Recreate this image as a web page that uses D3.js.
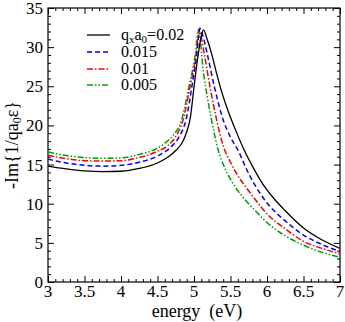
<!DOCTYPE html>
<html><head><meta charset="utf-8">
<script src="https://cdn.jsdelivr.net/npm/d3@7"></script>
<style>body{margin:0;background:#fff}svg{display:block}</style>
</head><body>
<script>
// ---- data ----
const xTicks = [3, 3.5, 4, 4.5, 5, 5.5, 6, 6.5, 7];
const yTicks = [0, 5, 10, 15, 20, 25, 30, 35];
const seriesLabels = ["0.02", "0.015", "0.01", "0.005"];

const energy002 = [3.0,3.25,3.5,3.75,4.0,4.25,4.5,4.65,4.75,4.85,4.9,4.95,5.0,5.06,5.1,5.13,5.18,5.24,5.3,5.36,5.45,5.57,5.7,5.8,5.95,6.1,6.25,6.5,6.75,7.0];
const loss002   = [14.8,14.45,14.2,14.1,14.15,14.5,15.2,16.0,16.8,18.0,19.2,21.0,24.9,29.2,31.4,32.2,31.0,29.2,27.0,24.9,22.3,19.4,16.6,14.8,12.4,10.6,9.1,6.9,5.4,4.3];

const energy0015 = [3.0,3.25,3.5,3.75,4.0,4.25,4.5,4.69,4.8,4.89,4.97,5.04,5.08,5.12,5.18,5.28,5.4,5.5,5.61,5.72,5.84,6.0,6.25,6.5,6.75,7.0];
const loss0015   = [15.7,15.2,14.9,14.8,14.9,15.3,16.1,17.3,18.6,20.7,24.9,29.2,32.4,31.5,29.2,24.9,20.7,18.5,16.7,14.4,12.3,10.1,7.8,6.0,4.8,3.9];

const energy001 = [3.0,3.25,3.5,3.75,4.0,4.25,4.5,4.64,4.75,4.85,4.945,5.03,5.07,5.1,5.14,5.22,5.31,5.4,5.5,5.6,5.72,5.85,6.0,6.25,6.5,6.75,7.0];
const loss001   = [16.2,15.75,15.5,15.45,15.5,15.9,16.7,17.4,18.6,20.7,24.9,29.2,32.3,31.2,29.2,24.9,20.7,17.4,15.3,13.6,12.0,10.4,8.7,6.8,5.2,4.3,3.6];

const energy0005 = [3.0,3.25,3.5,3.75,4.0,4.25,4.5,4.61,4.72,4.83,4.93,5.02,5.06,5.09,5.12,5.16,5.24,5.33,5.42,5.56,5.7,5.85,6.0,6.25,6.5,6.75,7.0];
const loss0005   = [16.6,16.15,15.9,15.8,15.85,16.3,17.1,17.8,18.8,20.7,24.9,29.2,32.2,30.5,27.5,24.9,20.7,16.9,14.6,12.2,10.5,9.0,7.6,5.9,4.7,3.8,3.15];

const seriesEnergy = [energy002, energy0015, energy001, energy0005];
const seriesLoss = [loss002, loss0015, loss001, loss0005];
const seriesColors = ["#000000", "#0000ff", "#ff0000", "#00a000"];
const seriesDash = [null, "5,3", "6,2,1.5,2", "6,2,1.5,2,1.5,2"];
const seriesWidth = [1.3, 1.5, 1.5, 1.5];

// ---- layout ----
const W = 345, H = 322;
const L = 48, R = 340, T = 8, B = 282;
const FONT = '"Liberation Serif"';

const svg = d3.select("body").append("svg").attr("width", W).attr("height", H);
const x = d3.scaleLinear().domain([3, 7]).range([L, R]);
const y = d3.scaleLinear().domain([0, 35]).range([B, T]);

const xMinor = d3.range(30, 71).map(v => v / 10).filter(v => !xTicks.some(t => Math.abs(t - v) < 1e-9));
const yMinor = d3.range(0, 36).filter(v => v % 5 !== 0);

function tickAxis(axisGen, transform, ticks, size) {
  const g = svg.append("g").attr("transform", transform)
    .call(axisGen.tickValues(ticks).tickSize(size).tickFormat(""));
  g.select(".domain").remove();
  g.selectAll("line").attr("stroke", "#000").attr("stroke-width", 1);
  g.selectAll("text").remove();
  return g;
}
tickAxis(d3.axisBottom(x), `translate(0,${B})`, xTicks, -6);
tickAxis(d3.axisBottom(x), `translate(0,${B})`, xMinor, -3);
tickAxis(d3.axisTop(x), `translate(0,${T})`, xTicks, -6);
tickAxis(d3.axisTop(x), `translate(0,${T})`, xMinor, -3);
tickAxis(d3.axisLeft(y), `translate(${L},0)`, yTicks, -6);
tickAxis(d3.axisLeft(y), `translate(${L},0)`, yMinor, -3);
tickAxis(d3.axisRight(y), `translate(${R},0)`, yTicks, -6);
tickAxis(d3.axisRight(y), `translate(${R},0)`, yMinor, -3);

// tick labels
svg.append("g").selectAll("text").data(xTicks).join("text")
  .attr("x", d => x(d)).attr("y", B + 15)
  .attr("text-anchor", "middle").attr("font-size", 17)
  .style("font-family", FONT)
  .text(d => d3.format("~g")(d));
svg.append("g").selectAll("text").data(yTicks).join("text")
  .attr("x", L - 5).attr("y", d => y(d) + 6)
  .attr("text-anchor", "end").attr("font-size", 17)
  .style("font-family", FONT)
  .text(d => d);

// frame
svg.append("rect").attr("x", L).attr("y", T).attr("width", R - L).attr("height", B - T)
  .attr("fill", "none").attr("stroke", "#000").attr("stroke-width", 1.2);

// curves
svg.append("clipPath").attr("id", "clip").append("rect")
  .attr("x", L).attr("y", T).attr("width", R - L).attr("height", B - T);
const line = d3.line().x(d => x(d[0])).y(d => y(d[1])).curve(d3.curveMonotoneX);
[3, 2, 1, 0].forEach(i => {
  const pts = seriesEnergy[i].map((e, k) => [e, seriesLoss[i][k]]);
  svg.append("path").datum(pts).attr("d", line)
    .attr("clip-path", "url(#clip)")
    .attr("fill", "none").attr("stroke", seriesColors[i])
    .attr("stroke-width", seriesWidth[i])
    .attr("stroke-dasharray", seriesDash[i]);
});

// legend
const legY = [35, 52, 69, 85];
const lg = svg.append("g");
seriesLabels.forEach((lab, i) => {
  lg.append("line").attr("x1", 87).attr("x2", 110).attr("y1", legY[i]).attr("y2", legY[i])
    .attr("stroke", seriesColors[i]).attr("stroke-width", seriesWidth[i])
    .attr("stroke-dasharray", seriesDash[i]);
  const t = lg.append("text").attr("x", 121).attr("y", legY[i] + 5).attr("font-size", 16)
    .style("font-family", FONT);
  if (i === 0) {
    t.append("tspan").text("q");
    t.append("tspan").attr("font-size", 11).attr("baseline-shift", "-25%").text("x");
    t.append("tspan").text("a");
    t.append("tspan").attr("font-size", 11).attr("baseline-shift", "-25%").text("0");
    t.append("tspan").text("=" + lab);
  } else {
    t.text(lab);
  }
});

// axis titles
svg.append("text").attr("x", 197).attr("y", 317).attr("text-anchor", "middle")
  .attr("font-size", 18).attr("xml:space", "preserve")
  .style("font-family", FONT)
  .text("energy  (eV)");
const yt = svg.append("text").attr("transform", `translate(18,${(T + B) / 2}) rotate(-90)`)
  .attr("text-anchor", "middle").attr("font-size", 18)
  .style("font-family", FONT);
yt.append("tspan").text("-Im{1/qa");
yt.append("tspan").attr("font-size", 12).attr("baseline-shift", "-25%").text("0");
yt.append("tspan").text("ε}");
</script>
</body></html>
